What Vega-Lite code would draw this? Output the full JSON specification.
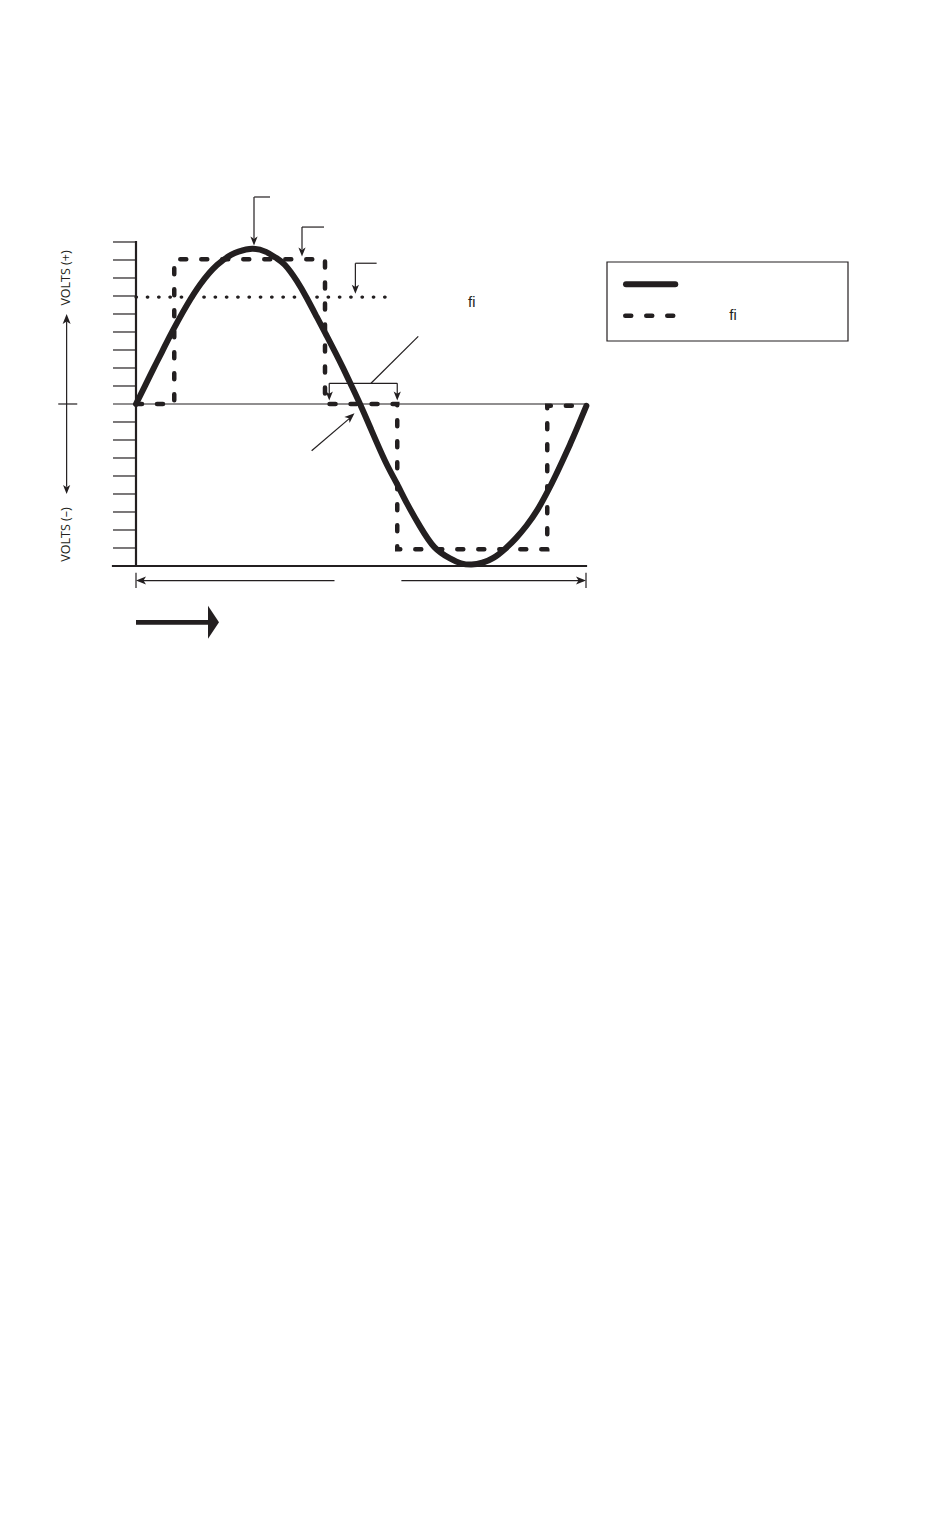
{
  "$schema": "https://vega.github.io/schema/vega-lite/v6.json",
  "width": 950,
  "height": 1514,
  "autosize": {"type": "none"},
  "padding": 0,
  "background": "white",
  "config": {"view": {"stroke": null}},
  "datasets": {
    "sine": [
      {"x": 0, "y": 0}, {"x": 7.5, "y": 1.05}, {"x": 14.1, "y": 1.98}, {"x": 20.8, "y": 2.9},
      {"x": 26.7, "y": 3.72}, {"x": 33.6, "y": 4.62}, {"x": 40.8, "y": 5.5}, {"x": 51.5, "y": 6.65},
      {"x": 64.8, "y": 7.72}, {"x": 76, "y": 8.28}, {"x": 82, "y": 8.47}, {"x": 93, "y": 8.62},
      {"x": 104, "y": 8.45}, {"x": 112, "y": 8.12}, {"x": 119.2, "y": 7.72}, {"x": 128.5, "y": 6.85},
      {"x": 136.5, "y": 5.9}, {"x": 144.5, "y": 4.85}, {"x": 152, "y": 3.86}, {"x": 159.2, "y": 2.9},
      {"x": 165.8, "y": 1.98}, {"x": 172.5, "y": 1.0}, {"x": 179.2, "y": 0},
      {"x": 187.7, "y": -1.35}, {"x": 199.2, "y": -3.15}, {"x": 208.5, "y": -4.4}, {"x": 217, "y": -5.55},
      {"x": 227.2, "y": -6.8}, {"x": 238.7, "y": -7.95}, {"x": 251.2, "y": -8.58}, {"x": 260, "y": -8.85},
      {"x": 268.5, "y": -8.92}, {"x": 277, "y": -8.82}, {"x": 285.9, "y": -8.55}, {"x": 295.2, "y": -8.05},
      {"x": 304, "y": -7.45}, {"x": 312.5, "y": -6.75}, {"x": 321, "y": -5.9}, {"x": 329, "y": -4.9},
      {"x": 335.5, "y": -4.0}, {"x": 341.9, "y": -3.05}, {"x": 347.5, "y": -2.2}, {"x": 353.1, "y": -1.3},
      {"x": 360.3, "y": -0.1}
    ],
    "square": [
      {"i": 1, "x": 0, "y": 0}, {"i": 2, "x": 30.6, "y": 0}, {"i": 3, "x": 30.6, "y": 8.04},
      {"i": 4, "x": 151.2, "y": 8.04}, {"i": 5, "x": 151.2, "y": 0}, {"i": 6, "x": 209, "y": 0},
      {"i": 7, "x": 209, "y": -8.07}, {"i": 8, "x": 329, "y": -8.07}, {"i": 9, "x": 329, "y": -0.1},
      {"i": 10, "x": 358, "y": -0.1}
    ],
    "rms": [{"x": 0, "y": 5.94}, {"x": 204.5, "y": 5.94}],
    "segments": [
      {"part": "tick", "x": -18.4, "y": 9, "x2": 0, "y2": 9},
      {"part": "tick", "x": -18.4, "y": 8, "x2": 0, "y2": 8},
      {"part": "tick", "x": -18.4, "y": 7, "x2": 0, "y2": 7},
      {"part": "tick", "x": -18.4, "y": 6, "x2": 0, "y2": 6},
      {"part": "tick", "x": -18.4, "y": 5, "x2": 0, "y2": 5},
      {"part": "tick", "x": -18.4, "y": 4, "x2": 0, "y2": 4},
      {"part": "tick", "x": -18.4, "y": 3, "x2": 0, "y2": 3},
      {"part": "tick", "x": -18.4, "y": 2, "x2": 0, "y2": 2},
      {"part": "tick", "x": -18.4, "y": 1, "x2": 0, "y2": 1},
      {"part": "tick", "x": -18.4, "y": -1, "x2": 0, "y2": -1},
      {"part": "tick", "x": -18.4, "y": -2, "x2": 0, "y2": -2},
      {"part": "tick", "x": -18.4, "y": -3, "x2": 0, "y2": -3},
      {"part": "tick", "x": -18.4, "y": -4, "x2": 0, "y2": -4},
      {"part": "tick", "x": -18.4, "y": -5, "x2": 0, "y2": -5},
      {"part": "tick", "x": -18.4, "y": -6, "x2": 0, "y2": -6},
      {"part": "tick", "x": -18.4, "y": -7, "x2": 0, "y2": -7},
      {"part": "tick", "x": -18.4, "y": -8, "x2": 0, "y2": -8},
      {"part": "tick", "x": -18.4, "y": 0, "x2": 360, "y2": 0},
      {"part": "axis", "x": 0, "y": -9, "x2": 0, "y2": 9},
      {"part": "axis", "x": -18.4, "y": -9, "x2": 360, "y2": -9},
      {"part": "leader", "x": 94.4, "y": 11.5, "x2": 107.2, "y2": 11.5},
      {"part": "leader", "x": 94.4, "y": 11.5, "x2": 94.4, "y2": 9.2},
      {"part": "leader", "x": 132.8, "y": 9.83, "x2": 150.4, "y2": 9.83},
      {"part": "leader", "x": 132.8, "y": 9.83, "x2": 132.8, "y2": 8.6},
      {"part": "leader", "x": 175.5, "y": 7.82, "x2": 192.5, "y2": 7.82},
      {"part": "leader", "x": 175.5, "y": 7.82, "x2": 175.5, "y2": 6.5},
      {"part": "leader", "x": 154.6, "y": 1.15, "x2": 209, "y2": 1.15},
      {"part": "leader", "x": 154.6, "y": 1.15, "x2": 154.6, "y2": 0.5},
      {"part": "leader", "x": 209, "y": 1.15, "x2": 209, "y2": 0.5},
      {"part": "leader", "x": 188, "y": 1.15, "x2": 225.8, "y2": 3.76},
      {"part": "leader", "x": 140.5, "y": -2.6, "x2": 172.5, "y2": -0.7},
      {"part": "leader", "x": -55.5, "y": 4.6, "x2": -55.5, "y2": -4.6},
      {"part": "leader", "x": -62.2, "y": 0, "x2": -47, "y2": 0},
      {"part": "leader", "x": 2, "y": -9.81, "x2": 158.8, "y2": -9.81},
      {"part": "leader", "x": 212.3, "y": -9.81, "x2": 358, "y2": -9.81},
      {"part": "leader", "x": 0, "y": -9.38, "x2": 0, "y2": -10.22},
      {"part": "leader", "x": 360, "y": -9.38, "x2": 360, "y2": -10.22},
      {"part": "shaft", "x": 0, "y": -12.13, "x2": 57.8, "y2": -12.13}
    ],
    "heads": [
      {"dir": "down", "x": 94.4, "y": 8.81},
      {"dir": "down", "x": 132.8, "y": 8.2},
      {"dir": "down", "x": 175.5, "y": 6.12},
      {"dir": "down", "x": 154.6, "y": 0.2},
      {"dir": "down", "x": 209, "y": 0.2},
      {"dir": "down", "x": -55.5, "y": -5.0},
      {"dir": "up", "x": -55.5, "y": 5.0},
      {"dir": "left", "x": 0, "y": -9.81},
      {"dir": "right", "x": 360, "y": -9.81},
      {"dir": "upright", "x": 174.8, "y": -0.52},
      {"dir": "big", "x": 62, "y": -12.13}
    ],
    "legendbox": [{"x": 376.8, "y": 7.889, "x2": 569.6, "y2": 3.5}],
    "legendsolid": [{"x": 392, "y": 6.65, "x2": 431.4, "y2": 6.65}],
    "legenddash": [{"x": 391.4, "y": 4.9, "x2": 432, "y2": 4.9}],
    "texts": [
      {"part": "volts", "x": -56, "y": 7.0, "label": "VOLTS (+)"},
      {"part": "volts", "x": -56, "y": -7.25, "label": "VOLTS (–)"},
      {"part": "note", "x": 268.6, "y": 5.41, "label": "ﬁ"},
      {"part": "note", "x": 477.6, "y": 4.67, "label": "ﬁ"}
    ]
  },
  "encoding": {
    "x": {"field": "x", "type": "quantitative", "scale": {"domain": [-108.8, 651.2], "nice": false, "zero": false}, "axis": null},
    "y": {"field": "y", "type": "quantitative", "scale": {"domain": [-61.667, 22.444], "nice": false, "zero": false}, "axis": null}
  },
  "layer": [
    {
      "data": {"name": "segments"},
      "transform": [{"filter": "datum.part === 'tick' || datum.part === 'leader'"}],
      "mark": {"type": "rule", "color": "#231f20", "strokeWidth": 1.2},
      "encoding": {"x2": {"field": "x2"}, "y2": {"field": "y2"}}
    },
    {
      "data": {"name": "segments"},
      "transform": [{"filter": "datum.part === 'axis'"}],
      "mark": {"type": "rule", "color": "#231f20", "strokeWidth": 2.2, "strokeCap": "square"},
      "encoding": {"x2": {"field": "x2"}, "y2": {"field": "y2"}}
    },
    {
      "data": {"name": "segments"},
      "transform": [{"filter": "datum.part === 'shaft'"}],
      "mark": {"type": "rule", "color": "#231f20", "strokeWidth": 4.7},
      "encoding": {"x2": {"field": "x2"}, "y2": {"field": "y2"}}
    },
    {
      "data": {"name": "rms"},
      "mark": {"type": "line", "color": "#231f20", "strokeWidth": 3.3, "strokeCap": "round", "strokeDash": [0.5, 10.8]}
    },
    {
      "data": {"name": "square"},
      "mark": {"type": "line", "color": "#231f20", "strokeWidth": 4.5, "strokeCap": "round", "strokeDash": [6, 15]},
      "encoding": {"order": {"field": "i", "type": "quantitative"}}
    },
    {
      "data": {"name": "sine"},
      "mark": {"type": "line", "color": "#231f20", "strokeWidth": 6, "strokeCap": "round", "strokeJoin": "round", "interpolate": "natural"}
    },
    {
      "data": {"name": "heads"},
      "transform": [{"filter": "datum.dir === 'down'"}],
      "mark": {"type": "point", "shape": "M0,0L-0.4,-1L0,-0.75L0.4,-1Z", "size": 324, "filled": true, "color": "#231f20", "opacity": 1, "angle": 0}
    },
    {
      "data": {"name": "heads"},
      "transform": [{"filter": "datum.dir === 'up'"}],
      "mark": {"type": "point", "shape": "M0,0L-0.4,-1L0,-0.75L0.4,-1Z", "size": 400, "filled": true, "color": "#231f20", "opacity": 1, "angle": 180}
    },
    {
      "data": {"name": "heads"},
      "transform": [{"filter": "datum.dir === 'left'"}],
      "mark": {"type": "point", "shape": "M0,0L-0.4,-1L0,-0.75L0.4,-1Z", "size": 400, "filled": true, "color": "#231f20", "opacity": 1, "angle": 90}
    },
    {
      "data": {"name": "heads"},
      "transform": [{"filter": "datum.dir === 'right'"}],
      "mark": {"type": "point", "shape": "M0,0L-0.4,-1L0,-0.75L0.4,-1Z", "size": 400, "filled": true, "color": "#231f20", "opacity": 1, "angle": 270}
    },
    {
      "data": {"name": "heads"},
      "transform": [{"filter": "datum.dir === 'upright'"}],
      "mark": {"type": "point", "shape": "M0,0L-0.4,-1L0,-0.75L0.4,-1Z", "size": 400, "filled": true, "color": "#231f20", "opacity": 1, "angle": 229}
    },
    {
      "data": {"name": "heads"},
      "transform": [{"filter": "datum.dir === 'big'"}],
      "mark": {"type": "point", "shape": "M-0.333,-1L0.333,0L-0.333,1Z", "size": 1089, "filled": true, "color": "#231f20", "opacity": 1}
    },
    {
      "data": {"name": "legendbox"},
      "mark": {"type": "rect", "fill": null, "fillOpacity": 0, "stroke": "#231f20", "strokeWidth": 1.2},
      "encoding": {"x2": {"field": "x2"}, "y2": {"field": "y2"}}
    },
    {
      "data": {"name": "legendsolid"},
      "mark": {"type": "rule", "color": "#231f20", "strokeWidth": 6, "strokeCap": "round"},
      "encoding": {"x2": {"field": "x2"}, "y2": {"field": "y2"}}
    },
    {
      "data": {"name": "legenddash"},
      "mark": {"type": "rule", "color": "#231f20", "strokeWidth": 4.5, "strokeCap": "round", "strokeDash": [6, 15]},
      "encoding": {"x2": {"field": "x2"}, "y2": {"field": "y2"}}
    },
    {
      "data": {"name": "texts"},
      "transform": [{"filter": "datum.part === 'volts'"}],
      "mark": {"type": "text", "angle": 270, "font": "Open Sans", "fontSize": 12.5, "color": "#231f20", "align": "center", "baseline": "middle"},
      "encoding": {"text": {"field": "label"}}
    },
    {
      "data": {"name": "texts"},
      "transform": [{"filter": "datum.part === 'note'"}],
      "mark": {"type": "text", "font": "Liberation Sans", "fontSize": 15, "color": "#231f20", "align": "center", "baseline": "alphabetic"},
      "encoding": {"text": {"field": "label"}}
    }
  ]
}
